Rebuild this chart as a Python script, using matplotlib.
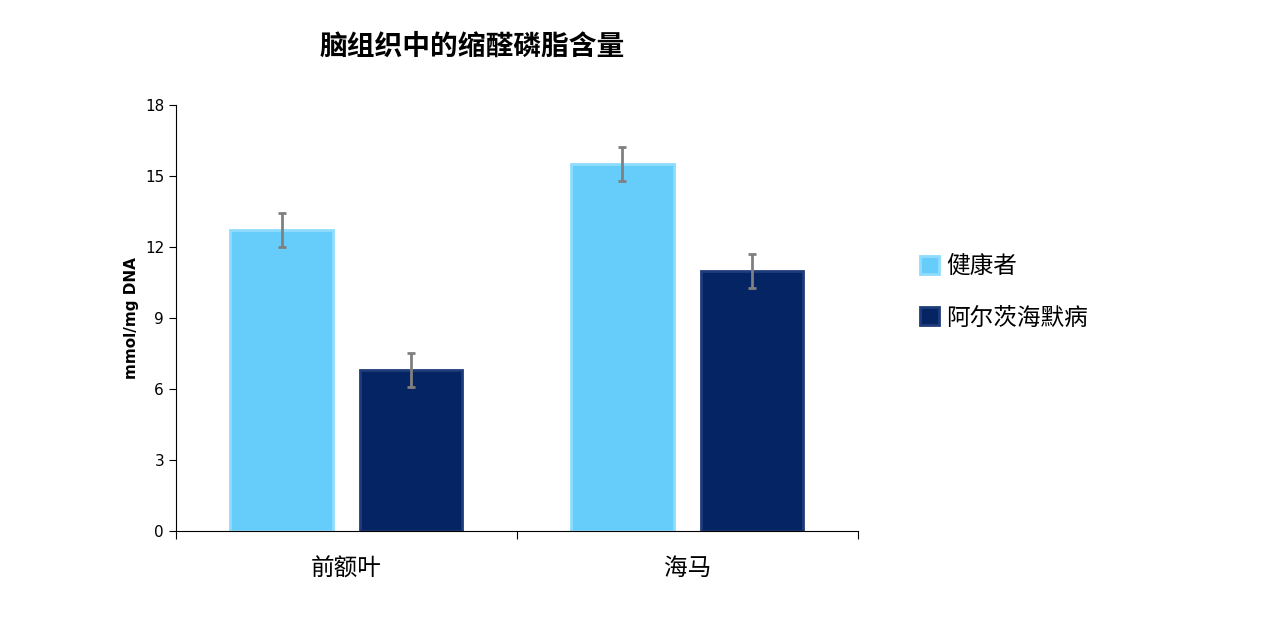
import matplotlib
matplotlib.use('Agg')
import matplotlib.pyplot as plt
import numpy as np

plt.rcParams['font.family'] = ['Noto Sans CJK SC', 'DejaVu Sans']

categories = ['前额叶', '海马']
series = ['健康者', '阿尔茨海默病']
healthy = [12.7, 15.5]
healthy_err = [0.72, 0.72]
alz = [6.8, 11.0]
alz_err = [0.72, 0.72]
yticks = [0, 3, 6, 9, 12, 15, 18]

fig = plt.figure(figsize=(12.84, 6.21), dpi=100)
ax = fig.add_axes([0.137, 0.145, 0.531, 0.686])

x = np.arange(len(categories))
w = 0.3
ax.bar(x - 0.19, healthy, w, color='#66CCFA', edgecolor='#8FDCFF', linewidth=2,
       label=series[0], zorder=2)
ax.bar(x + 0.19, alz, w, color='#052463', edgecolor='#1E3C7A', linewidth=2,
       label=series[1], zorder=2)
ax.errorbar(x - 0.19, healthy, yerr=healthy_err, fmt='none', ecolor='#808080',
            elinewidth=2, capsize=3, capthick=2, zorder=3)
ax.errorbar(x + 0.19, alz, yerr=alz_err, fmt='none', ecolor='#808080',
            elinewidth=2, capsize=3, capthick=2, zorder=3)

ax.set_xlim(-0.5, 1.5)
ax.set_ylim(0, 18)
ax.set_yticks(yticks)
ax.set_yticklabels([str(v) for v in yticks], fontsize=11, family='DejaVu Sans')
ax.set_xticks([-0.5, 0.5, 1.5])
ax.set_xticklabels([])
ax.tick_params(axis='x', length=6, direction='out')
ax.tick_params(axis='y', length=5, direction='out')
for i, c in enumerate(categories):
    ax.text(x[i], -1.6, c, ha='center', va='center', fontsize=17)
for s in ['top', 'right']:
    ax.spines[s].set_visible(False)
ax.set_ylabel('mmol/mg DNA', fontsize=11, fontweight='bold', family='DejaVu Sans')

fig.text(0.368, 0.924, '脑组织中的缩醛磷脂含量', ha='center', va='center',
         fontsize=20, fontweight='bold')

ax.legend(loc='center left', bbox_to_anchor=(1.06, 0.56), frameon=False,
          fontsize=17, handlelength=0.8, handleheight=0.8, labelspacing=1.2,
          handletextpad=0.3)

fig.savefig('out.png', dpi=100)
